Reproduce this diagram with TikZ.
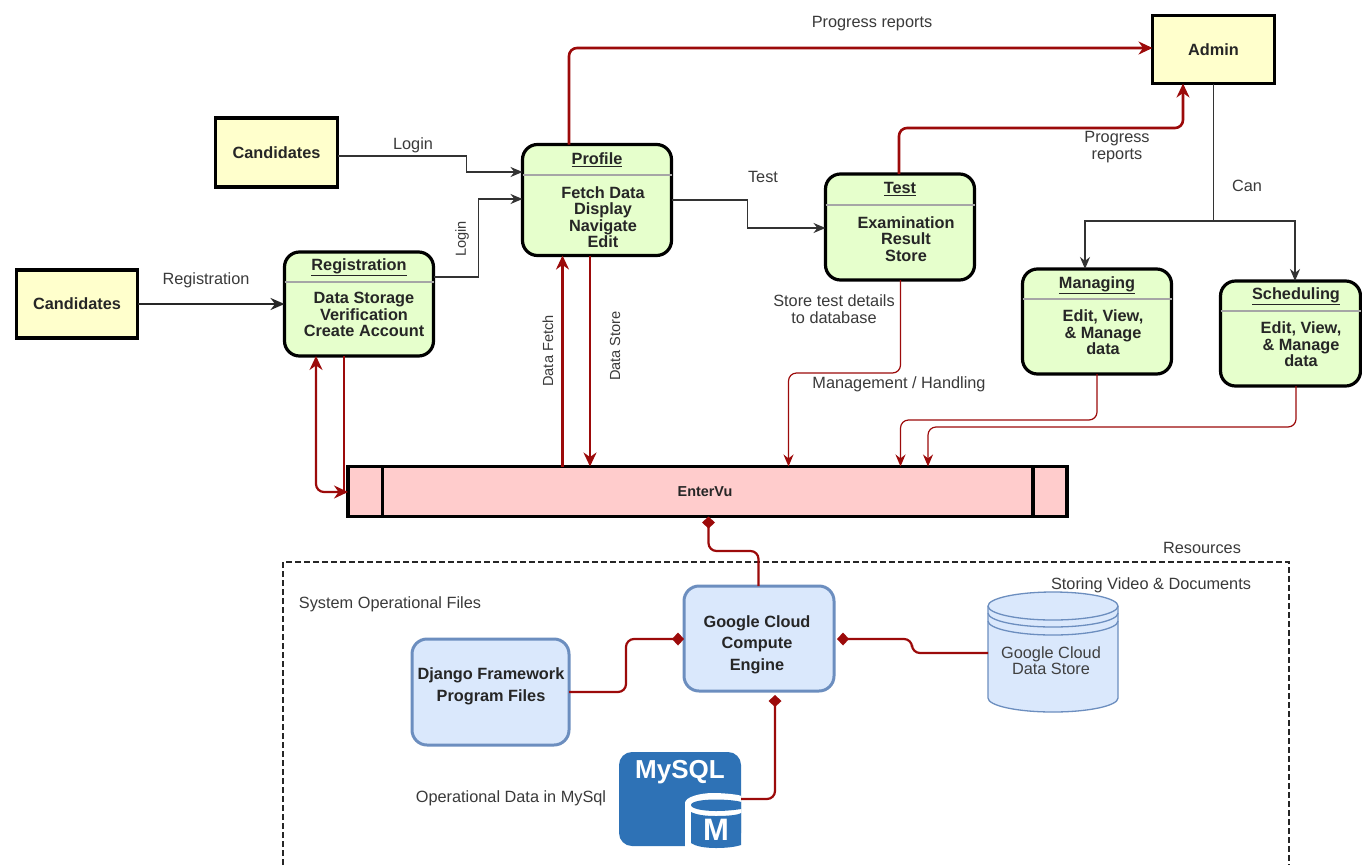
\documentclass[tikz,border=0pt]{standalone}
\usepackage{fontspec}
\setmainfont{Liberation Sans}
\usetikzlibrary{arrows.meta}
\definecolor{flowred}{HTML}{9C0A0A}
\definecolor{actorfill}{HTML}{FFFFCC}
\definecolor{procfill}{HTML}{E6FFCC}
\definecolor{storefill}{HTML}{FFCCCC}
\definecolor{resfill}{HTML}{DAE8FC}
\definecolor{resline}{HTML}{6C8EBF}
\definecolor{labelgray}{HTML}{3A3A3A}
\definecolor{sqlblue}{HTML}{2E72B6}
\tikzset{
  actor/.style={draw=black,line width=3.2pt,fill=actorfill,inner sep=0pt,outer sep=0pt},
  procbox/.style={draw=black,line width=3.2pt,fill=procfill,rounded corners=15pt,inner sep=0pt,outer sep=0pt},
  resbox/.style={draw=resline,line width=3pt,fill=resfill,rounded corners=15pt,inner sep=0pt,outer sep=0pt},
  divider/.style={draw=gray!70,line width=1.2pt},
  boxtext/.style={inner sep=0pt,align=center,text=black!85,font=\fontsize{16.3}{16.6}\selectfont\bfseries},
  restext/.style={inner sep=0pt,align=center,text=black!85,font=\fontsize{16.3}{21.4}\selectfont\bfseries},
  tag/.style={inner sep=0pt,align=center,text=labelgray,font=\fontsize{16.3}{17}\selectfont},
  sidetag/.style={inner sep=0pt,align=center,text=labelgray,rotate=90,font=\fontsize{14.6}{17}\selectfont},
  blackflow/.style={draw=black!80,line width=1.3pt,-{Stealth[length=12pt,width=10pt]}},
  thickblack/.style={draw=black!85,line width=2.5pt,-{Stealth[length=14pt,width=12pt]}},
  redthin/.style={draw=flowred,line width=1.2pt,-{Stealth[length=12pt,width=10pt]},rounded corners=8pt},
  redthick/.style={draw=flowred,line width=2.6pt,-{Stealth[length=14pt,width=13pt]},rounded corners=8pt},
  redlink/.style={draw=flowred,line width=2.2pt,-{Diamond[length=12pt,width=13pt]},rounded corners=8pt},
}
\begin{document}
\begin{tikzpicture}[x=1pt,y=-1pt]
\useasboundingbox (0,0) rectangle (1362,865);
\fill[white] (0,0) rectangle (1362,865);

% resources frame
\draw[black!85,line width=1.2pt,dash pattern=on 6pt off 3pt] (283,865) -- (283,562) -- (1289,562) -- (1289,865);

% actors
\node[actor,minimum width=122,minimum height=68] (admin) at (1213.5,49.5) {};
\node[actor,minimum width=122,minimum height=69] (candtop) at (276.5,152.5) {};
\node[actor,minimum width=121,minimum height=68] (candleft) at (77,304) {};
\node[boxtext] (admintxt) at (admin) {Admin};
\node[boxtext] (candtoptxt) at (candtop) {Candidates};
\node[boxtext] (candlefttxt) at (candleft) {Candidates};

% process boxes
\node[procbox,minimum width=149,minimum height=111] (profile) at (597,200) {};
\draw[divider] (profile.west |- 0,175) -- (profile.east |- 0,175);
\node[boxtext] (profilet) at (597,160) {\underline{Profile}};
\node[boxtext,anchor=north] (profilex) at (603,186) {Fetch Data\\Display\\Navigate\\Edit};

\node[procbox,minimum width=149,minimum height=104] (regn) at (359,304) {};
\draw[divider] (regn.west |- 0,282) -- (regn.east |- 0,282);
\node[boxtext] (regnt) at (359,267) {\underline{Registration}};
\node[boxtext,anchor=north] (regnx) at (364,292) {Data Storage\\Verification\\Create Account};

\node[procbox,minimum width=149,minimum height=106] (testb) at (900,227) {};
\draw[divider] (testb.west |- 0,205) -- (testb.east |- 0,205);
\node[boxtext] (testt) at (900,189) {\underline{Test}};
\node[boxtext,anchor=north] (testx) at (906,216) {Examination\\Result\\Store};

\node[procbox,minimum width=149,minimum height=105] (manage) at (1097,321.5) {};
\draw[divider] (manage.west |- 0,299) -- (manage.east |- 0,299);
\node[boxtext] (managet) at (1097,285) {\underline{Managing}};
\node[boxtext,anchor=north] (managex) at (1103,309.5) {Edit, View,\\\& Manage\\data};

\node[procbox,minimum width=140,minimum height=105] (sched) at (1290.5,333.5) {};
\draw[divider] (sched.west |- 0,311) -- (sched.east |- 0,311);
\node[boxtext] (schedt) at (1296,296) {\underline{Scheduling}};
\node[boxtext,anchor=north] (schedx) at (1301,321.5) {Edit, View,\\\& Manage\\data};

% data store bar
\node[draw=black,line width=3.2pt,fill=storefill,minimum width=719,minimum height=50,inner sep=0pt,outer sep=0pt] (enter) at (707.5,491.5) {};
\draw[black,line width=3.2pt] (enter.north -| 382.5,0) -- (enter.south -| 382.5,0);
\draw[black,line width=3.2pt] (enter.north -| 1033,0) -- (enter.south -| 1033,0);
\node[boxtext,font=\fontsize{14.4}{16}\selectfont\bfseries] (entertxt) at (705,492) {EnterVu};

% resources
\node[resbox,minimum width=150,minimum height=105] (engine) at (759,638.5) {};
\node[restext] (enginetxt) at (757,644.5) {Google Cloud\\Compute\\Engine};
\node[resbox,minimum width=157,minimum height=106] (django) at (490.5,692) {};
\node[restext] (djangotxt) at (491,686.5) {Django Framework\\Program Files};

% cylinder
\node[inner sep=0pt,outer sep=0pt,minimum width=130,minimum height=120] (store) at (1053,652) {};
\draw[resline,line width=1.3pt,fill=resfill]
  (988,606) -- (988,698) .. controls (988,705.7) and (1017.1,712) .. (1053,712)
  .. controls (1088.9,712) and (1118,705.7) .. (1118,698)
  -- (1118,606) .. controls (1118,598.3) and (1088.9,592) .. (1053,592)
  .. controls (1017.1,592) and (988,598.3) .. (988,606) -- cycle;
\draw[resline,line width=1.3pt] (988,606) .. controls (988,613.7) and (1017.1,620) .. (1053,620) .. controls (1088.9,620) and (1118,613.7) .. (1118,606);
\draw[resline,line width=1.3pt] (988,613) .. controls (988,620.7) and (1017.1,627) .. (1053,627) .. controls (1088.9,627) and (1118,620.7) .. (1118,613);
\draw[resline,line width=1.3pt] (988,621) .. controls (988,628.7) and (1017.1,635) .. (1053,635) .. controls (1088.9,635) and (1118,628.7) .. (1118,621);
\node[tag,text=black!75,font=\fontsize{16.3}{16}\selectfont] (storetxt) at (1051,661) {Google Cloud\\Data Store};

% MySQL icon
\node[inner sep=0pt,outer sep=0pt,minimum width=122,minimum height=94] (mysql) at (680,799) {};
\fill[sqlblue,rounded corners=13pt] (619,752) rectangle (741,846);
\fill[white] (685,848) -- (685,803) .. controls (685,797) and (700,793) .. (713,793)
  .. controls (726,793) and (741,795) .. (741,796) -- (741,848) -- cycle;
\fill[sqlblue] (691,805) .. controls (691,801.5) and (702,799.5) .. (716,799.5)
  .. controls (730,799.5) and (741,801.5) .. (741,802) -- (741,809)
  .. controls (741,809) and (730,811) .. (716,811) .. controls (702,811) and (691,808.5) .. (691,805) -- cycle;
\fill[sqlblue] (691,812) .. controls (697,815) and (706,816) .. (716,816)
  .. controls (728,816) and (738,815) .. (741,813) -- (741,845)
  .. controls (735,847) and (726,848) .. (716,848) .. controls (704,848) and (695,846) .. (691,843) -- cycle;
\node[inner sep=0pt,text=white,font=\fontsize{26}{26}\selectfont\bfseries] (mysqlt) at (680,772) {MySQL};
\node[inner sep=0pt,text=white,font=\fontsize{31}{31}\selectfont\bfseries] (mysqlm) at (716,830) {M};

% black connectors
\draw[blackflow] (candtop.east |- 0,156) -- (466.5,156) -- (466.5,172) -- (profile.west |- 0,172);
\draw[blackflow] (regn.east |- 0,277) -- (478.5,277) -- (478.5,199) -- (profile.west |- 0,199);
\draw[thickblack] (candleft.east) -- (regn.west);
\draw[blackflow] (profile.east |- 0,200) -- (747.5,200) -- (747.5,228) -- (testb.west |- 0,228);
\coordinate (split) at (1213.5,221);
\draw[blackflow,-] (admin.south) -- (split);
\draw[blackflow] (split) -- (1085,221) -- (manage.north -| 1085,0);
\draw[blackflow] (split) -- (1295,221) -- (sched.north -| 1295,0);

% red connectors
\draw[redthick] (profile.north -| 569,0) -- (569,48) -- (admin.west |- 0,48);
\draw[redthick] (testb.north -| 899,0) -- (899,128) -- (1183,128) -- (admin.south -| 1183,0);
\draw[redthick] (enter.north -| 562.5,0) -- (profile.south -| 562.5,0);
\draw[redthick] (profile.south -| 590,0) -- (enter.north -| 590,0);
\draw[redthick,line width=2.2pt,{Stealth[length=14pt,width=13pt]}-{Stealth[length=14pt,width=13pt]}] (regn.south -| 316,0) -- (316,492) -- (enter.west |- 0,492);
\draw[draw=flowred,line width=2.2pt] (regn.south -| 344,0) -- (344,492);
\draw[redthin] (testb.south -| 900.5,0) -- (900.5,373) -- (788.5,373) -- (enter.north -| 788.5,0);
\draw[redthin] (manage.south) -- (1097,420) -- (900.5,420) -- (enter.north -| 900.5,0);
\draw[redthin] (sched.south -| 1296,0) -- (1296,427) -- (928,427) -- (enter.north -| 928,0);

% diamond connectors
\draw[redlink] (engine.north -| 758.5,0) -- (758.5,551) -- (708.5,551) -- (enter.south -| 708.5,0);
\draw[redlink] (django.east |- 0,692) -- (626,692) -- (626,639) -- (engine.west |- 0,639);
\draw[redlink] (store.west |- 0,653) -- (912,653) -- (912,639) -- (837,639);
\draw[redlink] (mysql.east |- 0,799) -- (775,799) -- (775,695);

% labels
\node[tag] (l1) at (872,23.5) {Progress reports};
\node[tag] (l2) at (1117,147) {Progress\\reports};
\node[tag] (l3) at (413,145) {Login};
\node[sidetag] (l4) at (462,239) {Login};
\node[tag] (l5) at (206,280) {Registration};
\node[tag] (l6) at (763,177) {Test};
\node[tag] (l7) at (1247,186) {Can};
\node[tag] (l8) at (834,309.5) {Store test details\\to database};
\node[tag] (l9) at (899,384) {Management / Handling};
\node[sidetag] (l10) at (548,351) {Data Fetch};
\node[sidetag] (l11) at (615,346) {Data Store};
\node[tag] (l12) at (1202,548) {Resources};
\node[tag] (l13) at (1151,585) {Storing Video \& Documents};
\node[tag] (l14) at (390,604) {System Operational Files};
\node[tag] (l15) at (511,798) {Operational Data in MySql};
\end{tikzpicture}
\end{document}
